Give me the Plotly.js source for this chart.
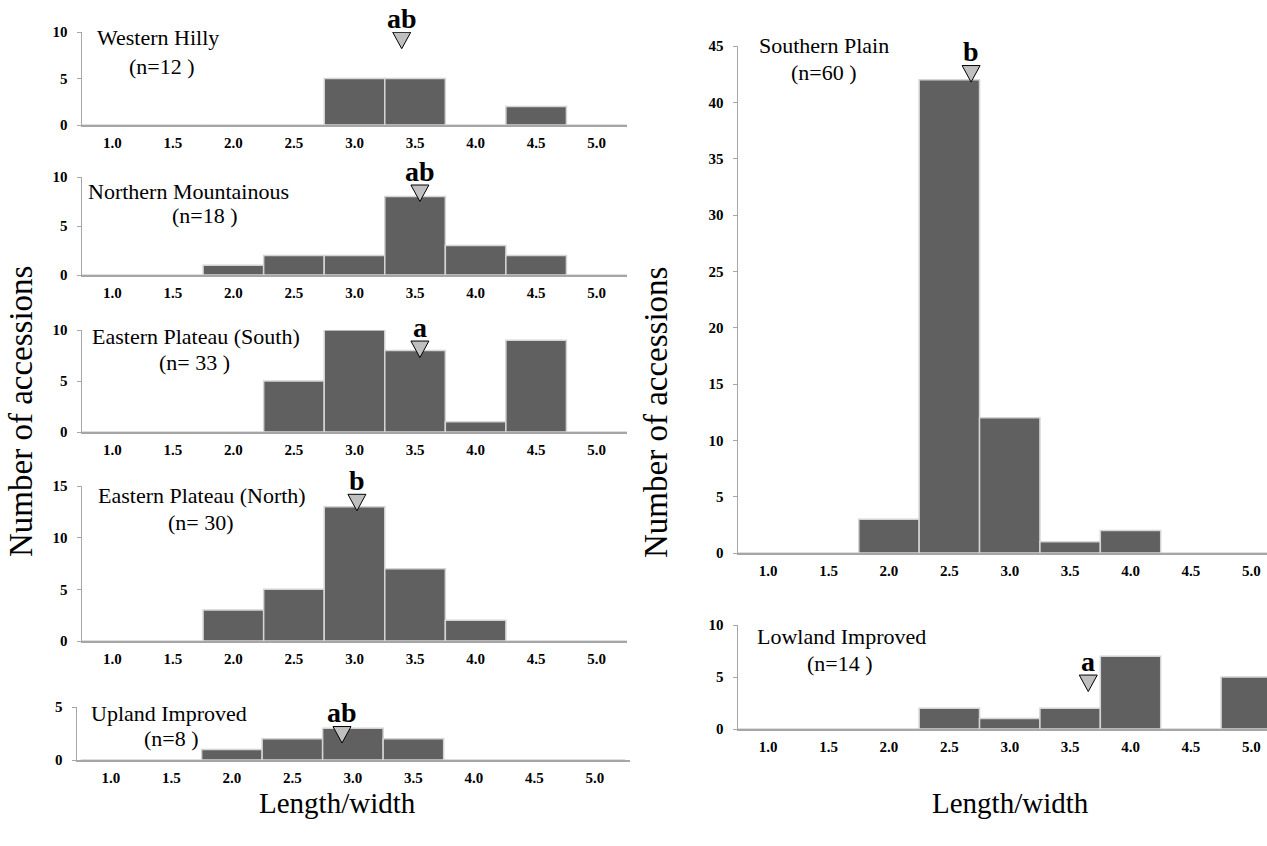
<!DOCTYPE html>
<html>
<head>
<meta charset="utf-8">
<script src="https://cdn.plot.ly/plotly-3.0.1.min.js"></script>
<style>
  html, body { margin: 0; padding: 0; background: #fff; }
  #chart { width: 1267px; height: 846px; }
</style>
</head>
<body>
<div id="chart"></div>
<script>
// Length/width bin centres and their labels
const bins = [1.0, 1.5, 2.0, 2.5, 3.0, 3.5, 4.0, 4.5, 5.0];
const binLabels = ['1.0', '1.5', '2.0', '2.5', '3.0', '3.5', '4.0', '4.5', '5.0'];

// Region names and sample sizes
const regions = ['Western Hilly', 'Northern Mountainous', 'Eastern Plateau (South)',
  'Eastern Plateau (North)', 'Upland Improved', 'Southern Plain', 'Lowland Improved'];
const sampleSizes = ['(n=12 )', '(n=18 )', '(n= 33 )', '(n= 30)', '(n=8 )', '(n=60 )', '(n=14 )'];

// Number of accessions per length/width bin
const westernHilly        = [0, 0, 0, 0, 5, 5, 0, 2, 0];
const northernMountainous = [0, 0, 1, 2, 2, 8, 3, 2, 0];
const easternPlateauSouth = [0, 0, 0, 5, 10, 8, 1, 9, 0];
const easternPlateauNorth = [0, 0, 3, 5, 13, 7, 2, 0, 0];
const uplandImproved      = [0, 0, 1, 2, 3, 2, 0, 0, 0];
const southernPlain       = [0, 0, 3, 42, 12, 1, 2, 0, 0];
const lowlandImproved     = [0, 0, 0, 2, 1, 2, 7, 0, 5];

// Group mean marker: position on the length/width axis, tip height, significance letters
const meanRatio    = [3.39, 3.54, 3.54, 3.02, 2.91, 2.68, 3.65];
const markerTip    = [8.2, 7.5, 7.3, 12.6, 1.6, 41.8, 3.6];
const groupLetters = ['ab', 'ab', 'a', 'b', 'ab', 'b', 'a'];

const counts = [westernHilly, northernMountainous, easternPlateauSouth, easternPlateauNorth,
  uplandImproved, southernPlain, lowlandImproved];

// Panel frames in page pixels: left, right, top, bottom; x range and y max
const W = 1267, H = 846;
const frames = [
  { l: 82,  r: 627,  t: 32,  b: 125, xr: [0.75, 5.25],  ymax: 10 },
  { l: 82,  r: 627,  t: 177, b: 275, xr: [0.75, 5.25],  ymax: 10 },
  { l: 82,  r: 627,  t: 330, b: 432, xr: [0.75, 5.25],  ymax: 10 },
  { l: 82,  r: 627,  t: 486, b: 641, xr: [0.75, 5.25],  ymax: 15 },
  { l: 77,  r: 630,  t: 707, b: 760, xr: [0.72, 5.29],  ymax: 5 },
  { l: 738, r: 1267, t: 46,  b: 553, xr: [0.75, 5.13],  ymax: 45 },
  { l: 738, r: 1267, t: 625, b: 729, xr: [0.75, 5.13],  ymax: 10 }
];
// Region label placement (page pixels: centre x of each line, centre y of each line)
const labelPos = [
  { x1: 158, y1: 38,  x2: 162, y2: 66 },
  { x1: 188, y1: 191, x2: 205, y2: 216 },
  { x1: 196, y1: 337, x2: 194, y2: 362 },
  { x1: 202, y1: 495, x2: 201, y2: 522 },
  { x1: 169, y1: 713, x2: 171, y2: 738 },
  { x1: 824, y1: 46,  x2: 824, y2: 72 },
  { x1: 841, y1: 636, x2: 840, y2: 663 }
];

const serif = 'Liberation Serif, Times New Roman, serif';
const axisGrey = '#a6a6a6';

const traces = [];
const layout = {
  width: W, height: H,
  margin: { l: 0, r: 0, t: 0, b: 0 },
  paper_bgcolor: '#ffffff',
  plot_bgcolor: 'rgba(0,0,0,0)',
  showlegend: false,
  bargap: 0,
  font: { family: serif, color: '#000' },
  shapes: [],
  annotations: []
};

frames.forEach((f, i) => {
  const n = i + 1;
  const xa = 'x' + (n === 1 ? '' : n);
  const ya = 'y' + (n === 1 ? '' : n);
  traces.push({
    type: 'bar',
    x: bins,
    y: counts[i],
    width: 0.5,
    xaxis: xa, yaxis: ya,
    marker: { color: '#606060', line: { color: '#d4d4d4', width: 1.5 } },
    hoverinfo: 'x+y'
  });

  layout['xaxis' + (n === 1 ? '' : n)] = {
    domain: [f.l / W, f.r / W],
    anchor: ya,
    range: f.xr,
    tickvals: bins,
    ticktext: binLabels,
    showgrid: false, zeroline: false,
    showline: true, linecolor: axisGrey, linewidth: 1.5,
    ticks: 'outside', ticklen: 3, tickcolor: 'rgba(0,0,0,0)',
    tickfont: { family: serif, size: 15, color: '#000', weight: 'bold' },
    fixedrange: true
  };
  layout['yaxis' + (n === 1 ? '' : n)] = {
    domain: [1 - f.b / H, 1 - f.t / H],
    anchor: xa,
    range: [0, f.ymax],
    dtick: 5,
    showgrid: false, zeroline: false,
    showline: true, linecolor: axisGrey, linewidth: 1.5,
    ticks: 'outside', ticklen: 4, tickcolor: axisGrey, tickwidth: 1,
    ticklabelstandoff: 6,
    tickfont: { family: serif, size: 15, color: '#000', weight: 'bold' },
    fixedrange: true
  };

  // mean marker
  layout.shapes.push({
    type: 'path',
    xref: xa, yref: ya,
    xsizemode: 'pixel', ysizemode: 'pixel',
    xanchor: meanRatio[i], yanchor: markerTip[i],
    path: 'M-9,16.5 L9,16.5 L0,0 Z',
    fillcolor: '#bfbfbf',
    line: { color: '#000', width: 1 }
  });
  layout.annotations.push({
    xref: xa, yref: ya,
    x: meanRatio[i], y: markerTip[i],
    yanchor: 'bottom', yshift: 13,
    text: '<b>' + groupLetters[i] + '</b>',
    showarrow: false,
    font: { family: serif, size: 28, color: '#000' }
  });

  // region name and sample size
  const p = labelPos[i];
  layout.annotations.push({
    xref: 'paper', yref: 'paper',
    x: p.x1 / W, y: 1 - p.y1 / H,
    xanchor: 'center', yanchor: 'middle',
    text: regions[i], showarrow: false,
    font: { family: serif, size: 22, color: '#000' }
  });
  layout.annotations.push({
    xref: 'paper', yref: 'paper',
    x: p.x2 / W, y: 1 - p.y2 / H,
    xanchor: 'center', yanchor: 'middle',
    text: sampleSizes[i], showarrow: false,
    font: { family: serif, size: 22, color: '#000' }
  });
});

// axis titles shared by each column
const axisTitles = [
  { x: 21 / W,   y: 1 - 412 / H, text: 'Number of accessions', angle: -90, size: 33 },
  { x: 656 / W,  y: 1 - 412 / H, text: 'Number of accessions', angle: -90, size: 33 },
  { x: 337 / W,  y: 1 - 803 / H, text: 'Length/width', angle: 0, size: 29 },
  { x: 1010 / W, y: 1 - 803 / H, text: 'Length/width', angle: 0, size: 29 }
];
axisTitles.forEach(a => {
  layout.annotations.push({
    xref: 'paper', yref: 'paper', x: a.x, y: a.y,
    xanchor: 'center', yanchor: 'middle',
    text: a.text, textangle: a.angle, showarrow: false,
    font: { family: serif, size: a.size, color: '#000' }
  });
});

Plotly.newPlot('chart', traces, layout, { displayModeBar: false, staticPlot: true });
</script>
</body>
</html>
